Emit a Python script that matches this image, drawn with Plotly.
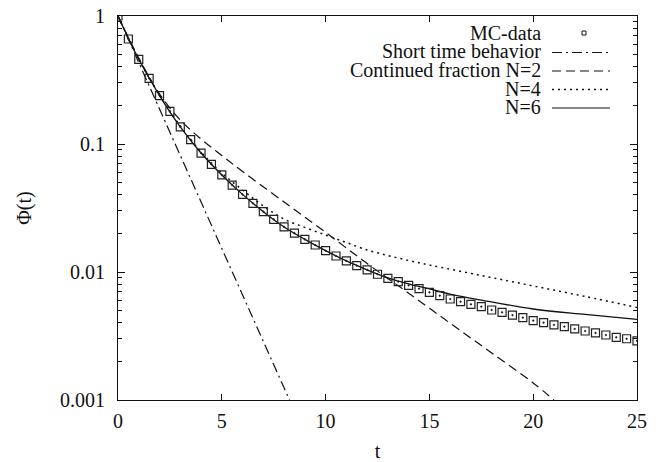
import plotly.graph_objects as go

# ---------------- data ----------------
t_mc = [0, 0.5, 1, 1.5, 2, 2.5, 3, 3.5, 4, 4.5, 5, 5.5, 6, 6.5, 7, 7.5, 8, 8.5, 9, 9.5,
        10, 10.5, 11, 11.5, 12, 12.5, 13, 13.5, 14, 14.5, 15, 15.5, 16, 16.5, 17, 17.5,
        18, 18.5, 19, 19.5, 20, 20.5, 21, 21.5, 22, 22.5, 23, 23.5, 24, 24.5, 25]
phi_mc = [1.0, 0.661, 0.459, 0.326, 0.239, 0.180, 0.136, 0.108, 0.085, 0.0694,
          0.0573, 0.0478, 0.0404, 0.0344, 0.0296, 0.0258, 0.0225, 0.0201, 0.0180, 0.01625,
          0.01468, 0.01334, 0.0122, 0.0112, 0.0104, 0.0096, 0.00893, 0.0084, 0.00787, 0.00741,
          0.00694, 0.00653, 0.00615, 0.00586, 0.00559, 0.00536, 0.00505, 0.00484, 0.00461, 0.0044,
          0.00417, 0.00402, 0.00386, 0.00374, 0.00359, 0.00346, 0.00334, 0.00322, 0.00309, 0.00301,
          0.0029]

t_short = [0, 8.26]
phi_short = [1.0, 0.001]

t_n2 = [0, 1, 2, 3, 4, 5, 6, 8, 10, 12, 14, 16, 18, 20, 21.0]
phi_n2 = [1.0, 0.470, 0.246, 0.154, 0.1094, 0.0813, 0.0610, 0.0352, 0.0204, 0.01165,
          0.00683, 0.00398, 0.00233, 0.00136, 0.001]

t_n4 = [0, 1, 2, 3, 4, 5, 6, 7, 8, 9, 10, 11, 12, 13, 14, 15, 17.5, 20, 22.5, 25]
phi_n4 = [1.0, 0.461, 0.2414, 0.1383, 0.0866, 0.0593, 0.0437, 0.0328, 0.0259, 0.0223,
          0.01945, 0.0170, 0.01486, 0.01345, 0.0123, 0.01134, 0.00939, 0.00778, 0.00644, 0.00528]

t_n6 = [0, 1, 2, 3, 4, 5, 6, 7, 8, 9, 10, 11, 12, 13, 14, 15, 16, 17.5, 20, 22.5, 25]
phi_n6 = [1.0, 0.459, 0.239, 0.136, 0.085, 0.0573, 0.0404, 0.0296, 0.0225, 0.0180,
          0.01468, 0.0122, 0.0104, 0.00898, 0.00806, 0.00737, 0.00673, 0.00604, 0.00514,
          0.00466, 0.00427]

legend_labels = ["MC-data", "Short time behavior", "Continued fraction N=2", "N=4", "N=6"]
x_ticks = [0, 5, 10, 15, 20, 25]
y_ticks = [1, 0.1, 0.01, 0.001]
y_ticktext = ["1", "0.1", "0.01", "0.001"]

# ---------------- styles ----------------
FONT = "Liberation Serif"
FS = 20
INK = "#111111"
dash_styles = ["10px,4px,2px,4px", "9px,5px", "2px,4px", "solid"]

fig = go.Figure()
fig.add_trace(go.Scatter(x=t_short, y=phi_short, mode="lines",
                         line=dict(color=INK, width=1.2, dash=dash_styles[0]), showlegend=False))
fig.add_trace(go.Scatter(x=t_n2, y=phi_n2, mode="lines", line_shape="spline",
                         line=dict(color=INK, width=1.2, dash=dash_styles[1]), showlegend=False))
fig.add_trace(go.Scatter(x=t_n4, y=phi_n4, mode="lines", line_shape="spline",
                         line=dict(color=INK, width=1.5, dash=dash_styles[2]), showlegend=False))
fig.add_trace(go.Scatter(x=t_n6, y=phi_n6, mode="lines", line_shape="spline",
                         line=dict(color=INK, width=1.3, dash=dash_styles[3]), showlegend=False))
fig.add_trace(go.Scatter(x=t_mc, y=phi_mc, mode="markers",
                         marker=dict(symbol="square-open-dot", size=8, color="#222222",
                                     line=dict(width=1.2, color="#222222")),
                         showlegend=False))

# ---------------- gnuplot-style key (text left, sample right) ----------------
L, R, T, B = 118, 21, 16, 62
W, H = 658, 462
pw, ph = W - L - R, H - T - B


def px2x(px):
    return (px - L) / pw


def py2y(py):
    return (H - B - py) / ph


row_py = [33, 51.5, 70, 88.5, 107]
for lab, py in zip(legend_labels, row_py):
    fig.add_annotation(x=px2x(543), y=py2y(py), xref="paper", yref="paper", text=lab,
                       showarrow=False, xanchor="right", yanchor="middle",
                       font=dict(family=FONT, size=FS, color=INK))
fig.add_shape(type="rect", xref="paper", yref="paper",
              x0=px2x(582), x1=px2x(586), y0=py2y(35), y1=py2y(31),
              line=dict(color=INK, width=1))
for i, py in enumerate(row_py[1:]):
    fig.add_shape(type="line", xref="paper", yref="paper",
                  x0=px2x(552), x1=px2x(610), y0=py2y(py + 1), y1=py2y(py + 1),
                  line=dict(color=INK, width=1.2 if i != 2 else 1.5,
                            dash=dash_styles[i]))

minor_vals = [m * 10 ** e for e in (-3, -2, -1) for m in range(2, 10)]

fig.update_layout(
    width=W, height=H,
    margin=dict(l=L, r=R, t=T, b=B),
    paper_bgcolor="white", plot_bgcolor="white",
    font=dict(family=FONT, size=FS, color=INK),
    showlegend=False,
    xaxis=dict(range=[0, 25], tickvals=x_ticks, ticks="inside", ticklen=6,
               tickcolor=INK, showline=True, linecolor=INK, linewidth=1.2, mirror="ticks",
               showgrid=False, zeroline=False, ticklabelstandoff=3, automargin=False,
               title=dict(text="t", standoff=18, font=dict(family=FONT, size=FS))),
    yaxis=dict(type="log", range=[-3, 0], tickvals=y_ticks, ticktext=y_ticktext,
               ticks="inside", ticklen=7, tickcolor=INK, showline=True, linecolor=INK,
               linewidth=1.2, mirror="ticks", showgrid=False, zeroline=False,
               ticklabelstandoff=8, automargin=False,
               minor=dict(tickvals=minor_vals, ticks="inside", ticklen=4, tickcolor=INK,
                          showgrid=False),
               title=dict(text="Φ(t)", standoff=22, font=dict(family=FONT, size=FS))),
)

fig.write_html("out.html")
